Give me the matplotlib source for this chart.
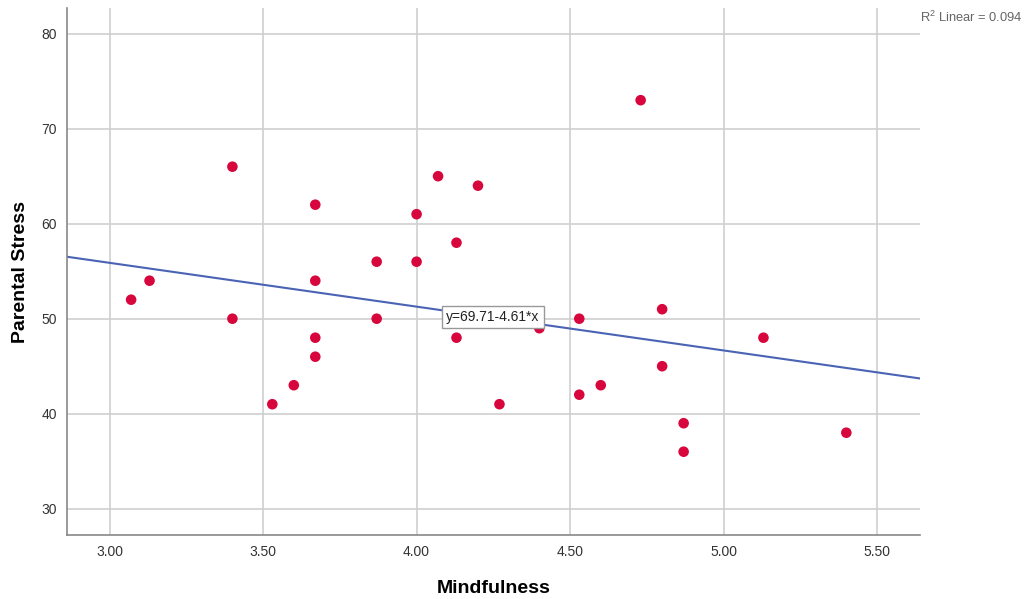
import matplotlib.pyplot as plt
import numpy as np

plt.rcParams['font.family'] = ['Liberation Sans', 'DejaVu Sans']
plt.rcParams['mathtext.fontset'] = 'custom'
plt.rcParams['mathtext.rm'] = 'Liberation Sans'
plt.rcParams['mathtext.default'] = 'regular'

# mindfulness vs parental stress
mindfulness = [3.07, 3.13, 3.40, 3.40, 3.53, 3.60, 3.67, 3.67, 3.67, 3.67,
               3.87, 3.87, 4.00, 4.00, 4.07, 4.13, 4.13, 4.20, 4.27, 4.40,
               4.53, 4.53, 4.60, 4.73, 4.80, 4.80, 4.87, 4.87, 5.13, 5.40]
stress = [52, 54, 66, 50, 41, 43, 62, 54, 48, 46,
          56, 50, 61, 56, 65, 58, 48, 64, 41, 49,
          50, 42, 43, 73, 51, 45, 39, 36, 48, 38]

intercept = 69.71
slope = -4.61
r2 = 0.094

x_ticks = [3.0, 3.5, 4.0, 4.5, 5.0, 5.5]
y_ticks = [30, 40, 50, 60, 70, 80]

fig = plt.figure(figsize=(10.27, 5.99), dpi=100)
ax = fig.add_axes([0.0652, 0.1063, 0.8303, 0.8803])

xlim = (2.861, 5.639)
ylim = (27.2, 82.7)

ax.grid(True, color='#cfcfcf', linewidth=1.2, zorder=0)
ax.set_axisbelow(True)

ax.scatter(mindfulness, stress, s=58, color='#d7063d', edgecolors='none', zorder=3)

xl = np.array(xlim)
ax.plot(xl, intercept + slope * xl, color='#4a63b4', linewidth=1.5, zorder=2)

ax.text(4.248, 50.15, f"y={intercept:.2f}-{abs(slope):.2f}*x", ha='center', va='center',
        fontsize=10, color='#222222', zorder=4,
        bbox=dict(boxstyle='square,pad=0.3', facecolor='white', edgecolor='#999999', linewidth=1))

ax.set_xlim(xlim)
ax.set_ylim(ylim)
ax.set_xticks(x_ticks)
ax.set_xticklabels([f"{v:.2f}" for v in x_ticks])
ax.set_yticks(y_ticks)
ax.tick_params(length=0, labelsize=10, labelcolor='#333333', pad=7)

for side in ['top', 'right']:
    ax.spines[side].set_visible(False)
for side in ['left', 'bottom']:
    ax.spines[side].set_color('#888888')
    ax.spines[side].set_linewidth(1.2)

ax.set_xlabel("Mindfulness", fontsize=14, fontweight='bold', labelpad=15)
ax.set_ylabel("Parental Stress", fontsize=14, fontweight='bold', labelpad=9)

fig.text(0.896, 0.984, f"R$^{{2}}$ Linear = {r2:.3f}", fontsize=9.3, color='#666666',
         ha='left', va='top')

fig.savefig("out.png", dpi=100)
